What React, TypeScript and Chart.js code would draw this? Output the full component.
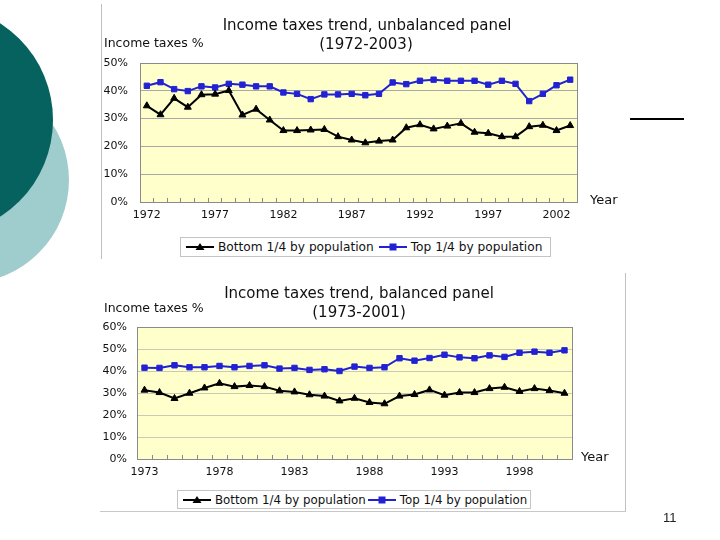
import React, { useEffect, useRef } from "react";
import { Chart, registerables } from "chart.js";

Chart.register(...registerables);

// ---------- data ----------
const yearsUnbalanced = [
  "1972", "1973", "1974", "1975", "1976", "1977", "1978", "1979", "1980", "1981",
  "1982", "1983", "1984", "1985", "1986", "1987", "1988", "1989", "1990", "1991",
  "1992", "1993", "1994", "1995", "1996", "1997", "1998", "1999", "2000", "2001",
  "2002", "2003",
];
const bottomUnbalanced = [
  34.6, 31.4, 37.3, 34.1, 38.6, 38.8, 40.1, 31.3, 33.4, 29.5,
  25.7, 25.7, 25.9, 26.1, 23.5, 22.3, 21.3, 21.9, 22.3, 26.7,
  27.8, 26.3, 27.3, 28.3, 25.1, 24.7, 23.5, 23.5, 27.1, 27.6,
  25.7, 27.5,
];
const topUnbalanced = [
  41.8, 43.1, 40.6, 39.9, 41.6, 41.2, 42.5, 42.2, 41.6, 41.6,
  39.4, 38.9, 37.0, 38.7, 38.7, 38.9, 38.4, 38.9, 43.0, 42.4,
  43.6, 44.0, 43.6, 43.6, 43.6, 42.2, 43.6, 42.5, 36.3, 38.9,
  42.0, 44.0,
];

const yearsBalanced = [
  "1973", "1974", "1975", "1976", "1977", "1978", "1979", "1980", "1981", "1982",
  "1983", "1984", "1985", "1986", "1987", "1988", "1989", "1990", "1991", "1992",
  "1993", "1994", "1995", "1996", "1997", "1998", "1999", "2000", "2001",
];
const bottomBalanced = [
  31.3, 30.2, 27.5, 29.9, 32.3, 34.4, 32.9, 33.4, 32.9, 31.0,
  30.5, 29.2, 28.6, 26.4, 27.6, 25.7, 25.1, 28.6, 29.3, 31.4,
  29.0, 30.2, 30.2, 32.0, 32.6, 30.7, 32.0, 31.1, 29.9,
];
const topBalanced = [
  41.5, 41.4, 42.6, 41.7, 41.7, 42.3, 41.7, 42.3, 42.6, 41.1,
  41.4, 40.5, 40.8, 40.0, 42.0, 41.4, 41.7, 45.8, 44.7, 45.9,
  47.4, 46.2, 45.8, 47.1, 46.4, 48.3, 48.8, 48.3, 49.4,
];

const yMaxUnbalanced = 50;
const yMaxBalanced = 60;
const yStep = 10;
const labelEvery = 5;

const seriesNames = ["Bottom 1/4 by population", "Top 1/4 by population"];
const titleUnbalanced = ["Income taxes trend, unbalanced panel", "(1972-2003)"];
const titleBalanced = ["Income taxes trend, balanced panel", "(1973-2001)"];
const yAxisName = "Income taxes %";
const xAxisName = "Year";
const pageNumber = "11";

// ---------- styling ----------
const FONT = "'DejaVu Sans', Verdana, sans-serif";
const BLUE = "#2222d4";
const BLACK = "#000000";
const PLOT_BG = "#ffffcc";

const plotAreaPlugin = {
  id: "plotArea",
  beforeDraw(chart: any) {
    const { ctx, chartArea } = chart;
    if (!chartArea) return;
    ctx.save();
    ctx.fillStyle = PLOT_BG;
    ctx.fillRect(chartArea.left, chartArea.top, chartArea.right - chartArea.left, chartArea.bottom - chartArea.top);
    ctx.restore();
  },
  beforeDatasetsDraw(chart: any) {
    const { ctx, chartArea } = chart;
    ctx.save();
    ctx.strokeStyle = "#8a8a8a";
    ctx.lineWidth = 1;
    ctx.strokeRect(
      Math.round(chartArea.left) + 0.5,
      Math.round(chartArea.top) + 0.5,
      Math.round(chartArea.right - chartArea.left),
      Math.round(chartArea.bottom - chartArea.top)
    );
    ctx.restore();
  },
};

type Geo = {
  width: number;
  height: number;
  yWidth: number;
  xHeight: number;
  padTop: number;
  padRight: number;
  yPad: number;
  xPad: number;
  gridColor: string;
};

function makeConfig(labels: string[], bottom: number[], top: number[], yMax: number, g: Geo): any {
  return {
    type: "line",
    data: {
      labels,
      datasets: [
        {
          label: seriesNames[0],
          data: bottom,
          borderColor: BLACK,
          backgroundColor: BLACK,
          borderWidth: 2,
          pointStyle: "triangle",
          pointRadius: 4,
          pointBorderWidth: 1,
          tension: 0,
        },
        {
          label: seriesNames[1],
          data: top,
          borderColor: BLUE,
          backgroundColor: BLUE,
          borderWidth: 2,
          pointStyle: "rect",
          pointRadius: 3.8,
          pointBorderWidth: 1,
          tension: 0,
        },
      ],
    },
    options: {
      responsive: false,
      animation: false,
      events: [],
      layout: { padding: { top: g.padTop, right: g.padRight, left: 0, bottom: 0 } },
      plugins: {
        legend: { display: false },
        title: { display: false },
        tooltip: { enabled: false },
      },
      scales: {
        x: {
          type: "category",
          offset: true,
          grid: {
            offset: true,
            drawOnChartArea: false,
            drawTicks: true,
            tickLength: -4,
            color: "#8a8a8a",
          },
          border: { color: "#8a8a8a" },
          ticks: {
            autoSkip: false,
            maxRotation: 0,
            minRotation: 0,
            padding: g.xPad,
            color: "#111",
            font: { family: FONT, size: 11 },
            callback: (_v: any, i: number) => (i % labelEvery === 0 ? labels[i] : ""),
          },
          afterFit: (s: any) => {
            s.height = g.xHeight;
          },
        },
        y: {
          min: 0,
          max: yMax,
          ticks: {
            stepSize: yStep,
            padding: g.yPad,
            color: "#111",
            font: { family: FONT, size: 11 },
            callback: (v: any) => v + "%",
          },
          grid: { drawTicks: false, color: g.gridColor },
          border: { color: "#8a8a8a" },
          afterFit: (s: any) => {
            s.width = g.yWidth;
          },
        },
      },
    },
    plugins: [plotAreaPlugin],
  };
}

function LineChart(props: {
  labels: string[];
  bottom: number[];
  top: number[];
  yMax: number;
  geo: Geo;
  left: number;
  topPos: number;
}) {
  const ref = useRef<HTMLCanvasElement | null>(null);
  useEffect(() => {
    if (!ref.current) return;
    const chart = new Chart(ref.current, makeConfig(props.labels, props.bottom, props.top, props.yMax, props.geo));
    return () => chart.destroy();
  }, []);
  return (
    <canvas
      ref={ref}
      width={props.geo.width}
      height={props.geo.height}
      style={{
        position: "absolute",
        left: props.left,
        top: props.topPos,
        width: props.geo.width,
        height: props.geo.height,
      }}
    />
  );
}

function Txt(props: { x: number; y: number; text: string; size: number; align?: "left" | "center"; color?: string; family?: string }) {
  const align = props.align || "left";
  return (
    <div
      style={{
        position: "absolute",
        left: props.x,
        top: props.y,
        transform: align === "center" ? "translate(-50%, -50%)" : "translateY(-50%)",
        fontFamily: props.family || FONT,
        fontSize: props.size,
        lineHeight: 1,
        color: props.color || "#111",
        whiteSpace: "nowrap",
      }}
    >
      {props.text}
    </div>
  );
}

function Marker(props: { kind: "triangle" | "rect"; color: string }) {
  return (
    <svg width={28} height={10} style={{ display: "block" }}>
      <line x1={0} y1={5} x2={28} y2={5} stroke={props.color} strokeWidth={2} />
      {props.kind === "triangle" ? (
        <polygon points="14,1 18.5,8 9.5,8" fill={props.color} />
      ) : (
        <rect x={10.5} y={1.5} width={7} height={7} fill={props.color} />
      )}
    </svg>
  );
}

function Legend(props: { x: number; y: number; w: number; h: number; gap: number; size: number }) {
  return (
    <div
      style={{
        position: "absolute",
        left: props.x,
        top: props.y,
        width: props.w,
        height: props.h,
        boxSizing: "border-box",
        border: "1px solid #c4c4c4",
        background: "#fff",
        display: "flex",
        alignItems: "center",
        paddingLeft: 5,
        fontFamily: FONT,
        fontSize: props.size,
        color: "#111",
        whiteSpace: "nowrap",
      }}
    >
      <Marker kind="triangle" color={BLACK} />
      <span style={{ marginLeft: 4 }}>{seriesNames[0]}</span>
      <span style={{ width: props.gap }} />
      <Marker kind="rect" color={BLUE} />
      <span style={{ marginLeft: 4 }}>{seriesNames[1]}</span>
    </div>
  );
}

export default function App() {
  const geoTop: Geo = {
    width: 524,
    height: 257,
    yWidth: 39,
    xHeight: 58,
    padTop: 60,
    padRight: 48,
    yPad: 12,
    xPad: 11,
    gridColor: "#a8a8a8",
  };
  const geoBottom: Geo = {
    width: 525,
    height: 238,
    yWidth: 37,
    xHeight: 52,
    padTop: 54,
    padRight: 53,
    yPad: 10,
    xPad: 11,
    gridColor: "#c9c9b8",
  };
  return (
    <div
      style={{
        position: "absolute",
        left: 0,
        top: 0,
        width: 720,
        height: 540,
        background: "#fff",
        overflow: "hidden",
      }}
    >
      {/* decorative circles */}
      <div style={{ position: "absolute", left: -137, top: 77, width: 206, height: 206, borderRadius: "50%", background: "#9fcccc" }} />
      <div style={{ position: "absolute", left: -177, top: 5, width: 230, height: 230, borderRadius: "50%", background: "#05625f" }} />

      {/* top chart frame */}
      <div style={{ position: "absolute", left: 101, top: 4, width: 1, height: 255, background: "#c0c0c0" }} />
      {/* bottom chart frame */}
      <div style={{ position: "absolute", left: 625, top: 273, width: 1, height: 239, background: "#c0c0c0" }} />
      <div style={{ position: "absolute", left: 100, top: 511, width: 526, height: 1, background: "#c8c8c8" }} />

      {/* short rule */}
      <div style={{ position: "absolute", left: 630, top: 118, width: 54, height: 2, background: "#000" }} />

      <LineChart labels={yearsUnbalanced} bottom={bottomUnbalanced} top={topUnbalanced} yMax={yMaxUnbalanced} geo={geoTop} left={101} topPos={3} />
      <Txt x={367} y={25} text={titleUnbalanced[0]} size={15} align="center" />
      <Txt x={366} y={44} text={titleUnbalanced[1]} size={15} align="center" />
      <Txt x={104} y={43} text={yAxisName} size={12.5} />
      <Txt x={590} y={199} text={xAxisName} size={13} />
      <Legend x={180} y={237} w={371} h={20} gap={5} size={12.2} />

      <LineChart labels={yearsBalanced} bottom={bottomBalanced} top={topBalanced} yMax={yMaxBalanced} geo={geoBottom} left={100} topPos={273} />
      <Txt x={359} y={293} text={titleBalanced[0]} size={15} align="center" />
      <Txt x={359} y={312} text={titleBalanced[1]} size={15} align="center" />
      <Txt x={104} y={308} text={yAxisName} size={12.5} />
      <Txt x={581} y={456} text={xAxisName} size={13} />
      <Legend x={177} y={490} w={354} h={19} gap={2} size={11.8} />

      <Txt x={663} y={517} text={pageNumber} size={13} family="'Liberation Sans', Arial, sans-serif" color="#222" />
    </div>
  );
}
